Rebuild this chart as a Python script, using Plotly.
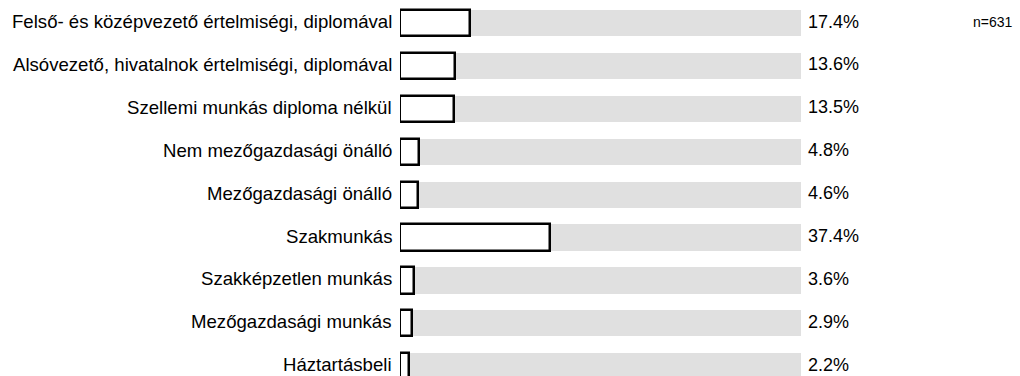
import plotly.graph_objects as go

categories = [
    "Felső- és középvezető értelmiségi, diplomával",
    "Alsóvezető, hivatalnok értelmiségi, diplomával",
    "Szellemi munkás diploma nélkül",
    "Nem mezőgazdasági önálló",
    "Mezőgazdasági önálló",
    "Szakmunkás",
    "Szakképzetlen munkás",
    "Mezőgazdasági munkás",
    "Háztartásbeli",
]
shares = [17.4, 13.6, 13.5, 4.8, 4.6, 37.4, 3.6, 2.9, 2.2]
full_scale = [100] * len(categories)
sample_note = "n=631"

positions = list(range(len(categories)))
font_family = "Liberation Sans, Arial, sans-serif"

fig = go.Figure()

# grey track behind each bar (0-100%)
fig.add_trace(go.Bar(
    x=full_scale, y=positions, orientation="h",
    marker=dict(color="#e0e0e0", line=dict(width=0)),
    width=0.61, hoverinfo="skip", showlegend=False,
))

# outlined value bars
fig.add_trace(go.Bar(
    x=shares, y=positions, orientation="h",
    marker=dict(color="white", line=dict(color="black", width=2.5)),
    width=0.61, showlegend=False,
))

annotations = []
for pos, name, v in zip(positions, categories, shares):
    # category label left of the bar
    annotations.append(dict(
        x=0, y=pos, xref="x", yref="y", text=name,
        showarrow=False, xanchor="right", xshift=-6, yshift=1.5,
        font=dict(family=font_family, size=18.6, color="black"),
    ))
    # value label right of the track
    annotations.append(dict(
        x=100, y=pos, xref="x", yref="y", text=f"{v:.1f}%",
        showarrow=False, xanchor="left", xshift=5, yshift=1.5,
        font=dict(family=font_family, size=18, color="black"),
    ))
annotations.append(dict(
    x=1, y=0, xref="paper", yref="y", text=sample_note,
    showarrow=False, xanchor="right", xshift=214, yshift=1.5,
    font=dict(family=font_family, size=14, color="black"),
))

fig.update_layout(
    width=1020, height=376,
    margin=dict(l=400, r=219, t=0, b=0),
    paper_bgcolor="white", plot_bgcolor="white",
    barmode="overlay", bargap=0,
    annotations=annotations,
    xaxis=dict(range=[0, 100], visible=False, fixedrange=True),
    yaxis=dict(
        range=[8.228, -0.536], visible=False, fixedrange=True,
    ),
    font=dict(family=font_family),
)

fig.write_html("out.html", config={"displayModeBar": False})
